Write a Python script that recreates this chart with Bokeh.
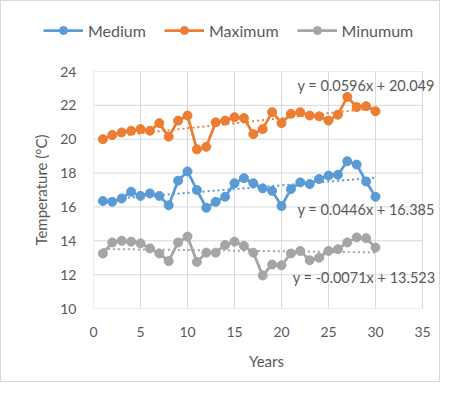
from bokeh.plotting import figure
from bokeh.layouts import column, row
from bokeh.models import (FixedTicker, Legend, LegendItem, Label, Range1d)
from bokeh.embed import file_html
from bokeh.resources import INLINE

years = list(range(1, 31))
series_names = ["Medium", "Maximum", "Minumum"]
medium = [16.35, 16.3, 16.5, 16.9, 16.65, 16.8, 16.65, 16.1, 17.55, 18.1,
          17.0, 15.95, 16.3, 16.6, 17.4, 17.7, 17.4, 17.1, 16.95, 16.05,
          17.05, 17.45, 17.35, 17.65, 17.85, 17.9, 18.7, 18.5, 17.5, 16.6]
maximum = [20.0, 20.25, 20.4, 20.5, 20.6, 20.5, 20.95, 20.15, 21.1, 21.4,
           19.4, 19.55, 21.0, 21.1, 21.3, 21.25, 20.3, 20.6, 21.6, 20.95,
           21.5, 21.6, 21.4, 21.35, 21.1, 21.45, 22.5, 21.9, 21.95, 21.65]
minimum = [13.25, 13.9, 14.0, 13.95, 13.85, 13.55, 13.25, 12.8, 13.9, 14.25,
           12.75, 13.3, 13.3, 13.75, 13.95, 13.7, 13.3, 11.95, 12.6, 12.55,
           13.25, 13.4, 12.85, 13.0, 13.4, 13.5, 13.9, 14.2, 14.15, 13.6]
trend_slopes = [0.0446, 0.0596, -0.0071]
trend_intercepts = [16.385, 20.049, 13.523]
trend_labels = ["y = 0.0446x + 16.385", "y = 0.0596x + 20.049", "y = -0.0071x + 13.523"]
trend_label_pos = [(21.7, 15.85), (21.7, 23.15), (21.2, 11.81)]
x_ticks = [0, 5, 10, 15, 20, 25, 30, 35]
y_ticks = [10, 12, 14, 16, 18, 20, 22, 24]

colors = ["#5B9BD5", "#ED7D31", "#A5A5A5"]
FONT = "Lato"
TXT = "#595959"
GRID = "#D9D9D9"
W, H = 438, 380
LEG_H = 57
LEFT = 92
FRAME_W = 329          # width of the gridded area (0..35)
x0, x1 = x_ticks[0], x_ticks[-1]
y0, y1 = y_ticks[0], y_ticks[-1]
# frame extends to the figure's right edge so the trend labels are not clipped
x_end = x0 + (x1 - x0) * (W - LEFT) / FRAME_W

# legend strip
lf = figure(width=W, height=LEG_H, output_backend="svg", toolbar_location=None,
            x_range=Range1d(0, 1), y_range=Range1d(0, 1),
            min_border_left=0, min_border_right=0, min_border_top=0, min_border_bottom=0)
lf.axis.visible = False
lf.grid.visible = False
lf.outline_line_color = None

p = figure(width=W, height=H - LEG_H, output_backend="svg", toolbar_location=None,
           x_range=Range1d(x0, x_end), y_range=Range1d(y0, y1),
           min_border_left=LEFT, min_border_right=0, min_border_top=70 - LEG_H,
           min_border_bottom=73)
p.outline_line_color = None
p.background_fill_color = "white"
p.border_fill_color = "white"
p.xgrid.visible = False
p.ygrid.visible = False

for ax in (p.xaxis[0], p.yaxis[0]):
    ax.axis_line_color = None
    ax.major_tick_line_color = None
    ax.minor_tick_line_color = None
    ax.major_tick_out = 0
    ax.major_tick_in = 0
    ax.major_label_text_font = FONT
    ax.major_label_text_font_size = "14px"
    ax.major_label_text_color = TXT
    ax.axis_label_text_font = FONT
    ax.axis_label_text_font_size = "15px"
    ax.axis_label_text_font_style = "normal"
    ax.axis_label_text_color = TXT

p.xaxis.ticker = FixedTicker(ticks=x_ticks)
p.yaxis.ticker = FixedTicker(ticks=y_ticks)
p.xaxis.axis_label = "Years"
p.yaxis.axis_label = "Temperature (°C)"
p.xaxis.major_label_standoff = 18
p.yaxis.major_label_standoff = 17
p.xaxis.axis_label_standoff = 12
p.yaxis.axis_label_standoff = 7

# gridlines (bounded to the 0..35 × 10..24 box, which also forms the plot-area border)
p.segment(x0=x_ticks, y0=[y0] * len(x_ticks), x1=x_ticks, y1=[y1] * len(x_ticks),
          line_color=GRID, line_width=1, level="underlay")
p.segment(x0=[x0] * len(y_ticks), y0=y_ticks, x1=[x1] * len(y_ticks), y1=y_ticks,
          line_color=GRID, line_width=1, level="underlay")

items = []
for name, vals, col, m, b in zip(series_names, [medium, maximum, minimum], colors,
                                  trend_slopes, trend_intercepts):
    tx = [years[0], years[-1]]
    ty = [m * x + b for x in tx]
    p.line(tx, ty, line_color=col, line_width=2, line_dash="2 3")
    p.line(years, vals, line_color=col, line_width=2.75)
    p.scatter(years, vals, size=9, fill_color=col, line_color=col)
    # legend glyphs in the legend strip (data lies outside its ranges, so only the legend shows)
    l = lf.line(x=years, y=vals, line_color=col, line_width=2.75)
    s = lf.scatter(x=years, y=vals, size=9, fill_color=col, line_color=col)
    items.append(LegendItem(label=name, renderers=[l, s]))

for txt, (lx, ly) in zip(trend_labels, trend_label_pos):
    p.add_layout(Label(x=lx, y=ly, text=txt, text_font=FONT, text_font_size="14.5px",
                       text_color=TXT, text_baseline="middle", text_align="left"))

legend = Legend(items=items, orientation="horizontal", location=(42, 18),
                glyph_width=40, glyph_height=20, label_standoff=5, spacing=18,
                label_text_font=FONT, label_text_font_size="16px", label_text_color=TXT,
                border_line_alpha=0, background_fill_alpha=0, padding=0, margin=0)
lf.add_layout(legend, "center")

layout = column(row(lf), p, spacing=0)
layout.styles = {"border": "1px solid #D9D9D9"}
open("out.html", "w").write(file_html(layout, INLINE))
